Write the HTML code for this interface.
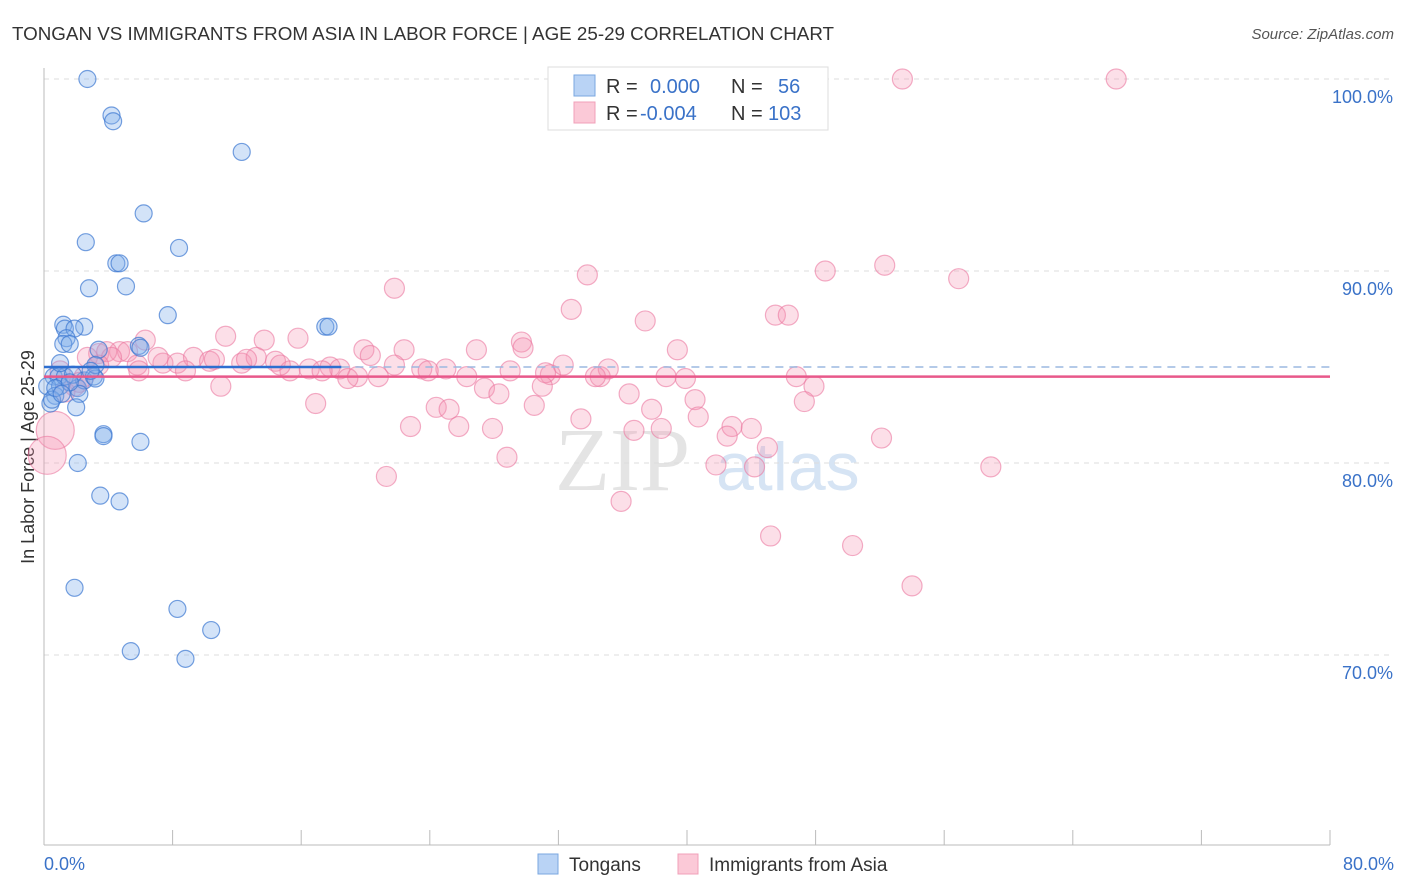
<!DOCTYPE html>
<html><head><meta charset="utf-8"><style>
body{margin:0;background:#fff;font-family:"Liberation Sans",sans-serif;}
svg{display:block}
</style></head><body>
<svg id="c" width="1406" height="892">
<text x="12" y="40" font-size="18.8" fill="#333">TONGAN VS IMMIGRANTS FROM ASIA IN LABOR FORCE | AGE 25-29 CORRELATION CHART</text>
<text x="1394" y="39" font-size="15" fill="#555" font-style="italic" text-anchor="end">Source: ZipAtlas.com</text>
<text transform="translate(34,457) rotate(-90)" font-size="18" fill="#333" text-anchor="middle">In Labor Force | Age 25-29</text>
<text x="555" y="490" font-size="90" fill="#e4e4e4" font-family="Liberation Serif">ZIP</text>
<text x="716" y="490" font-size="68" fill="#d6e4f4">atlas</text>
<g id="grid"></g><g id="pts"></g><g id="lines"></g>
<g>
<rect x="548" y="67" width="280" height="63" fill="#fff" stroke="#ddd"/>
<rect x="574" y="75" width="21" height="21" fill="#b9d3f5" stroke="#7aa7e0"/>
<rect x="574" y="102" width="21" height="21" fill="#fbc9d7" stroke="#f0a0b8"/>
<text x="606" y="93" font-size="20" fill="#333">R = </text><text x="650" y="93" font-size="20" fill="#3a72c8">0.000</text>
<text x="731" y="93" font-size="20" fill="#333">N = </text><text x="778" y="93" font-size="20" fill="#3a72c8">56</text>
<text x="606" y="120" font-size="20" fill="#333">R = </text><text x="640" y="120" font-size="20" fill="#3a72c8">-0.004</text>
<text x="731" y="120" font-size="20" fill="#333">N = </text><text x="768" y="120" font-size="20" fill="#3a72c8">103</text>
</g>
<g>
<rect x="538" y="854" width="20" height="20" fill="#b9d3f5" stroke="#7aa7e0"/>
<text x="569" y="871" font-size="19" fill="#333">Tongans</text>
<rect x="678" y="854" width="20" height="20" fill="#fbc9d7" stroke="#f0a0b8"/>
<text x="709" y="871" font-size="19" fill="#333">Immigrants from Asia</text>
</g>
</svg>
<script>
const yTicks=[100,90,80,70];
const xTickLabels=["0.0%","80.0%"];
const blueX=[2.7,4.2,4.3,12.3,6.2,2.6,8.4,4.5,4.7,2.8,5.1,7.7,1.2,1.3,2.5,1.9,1.4,1.2,1.6,17.5,17.7,3.4,5.9,6.0,0.6,0.9,0.2,1.0,2.1,2.5,3.1,3.2,0.7,0.4,0.5,1.3,2.2,2.0,3.7,3.7,6.0,2.1,3.5,4.7,1.9,8.3,10.4,5.4,8.8,3.2,2.9,1.8,1.0,0.7,1.6,1.1];
const blueY=[100,98.1,97.8,96.2,93,91.5,91.2,90.4,90.4,89.1,89.2,87.7,87.2,87,87.1,87,86.5,86.2,86.2,87.1,87.1,85.9,86.1,86,84.5,84.5,84,84,83.9,84.3,84.5,84.4,83.5,83.1,83.3,84.5,83.6,82.9,81.5,81.4,81.1,80.0,78.3,78.0,73.5,72.4,71.3,70.2,69.8,85.1,84.8,84.6,85.2,83.9,84.2,83.6];
const pinkX=[53.4,66.7,33.8,52.3,48.6,56.9,21.8,32.8,37.4,45.5,46.3,6.3,11.3,13.7,15.8,22.4,26.9,29.7,29.8,39.4,19.9,20.3,3.4,4.7,5.2,3.9,2.7,4.2,5.8,7.4,8.3,9.3,10.3,12.3,13.2,14.4,12.6,16.5,17.8,18.4,19.5,20.8,23.5,25.0,23.9,26.3,31.5,32.3,31.2,34.6,35.1,34.3,38.7,39.9,46.8,47.9,5.9,8.8,11.0,15.3,17.3,18.9,27.4,28.3,31.0,36.4,40.5,47.3,16.9,24.4,25.2,30.5,33.4,37.8,40.7,25.8,22.8,27.9,36.7,38.4,42.8,44.0,42.5,45.0,52.1,44.2,41.8,58.9,21.3,28.8,35.9,45.2,50.3,54.0,2.5,1.9,2.2,3.4,1.3,1.0,7.1,10.6,14.7,21.8,29.0];
const pinkY=[100,100,89.8,90.3,90,89.6,89.1,88,87.4,87.7,87.7,86.4,86.6,86.4,86.5,85.9,85.9,86.3,86,85.9,85.9,85.6,85.7,85.8,85.8,85.8,85.5,85.5,85.1,85.2,85.2,85.5,85.3,85.2,85.5,85.3,85.4,84.9,85.0,84.9,84.5,84.5,84.9,84.9,84.8,84.5,84.6,85.1,84.7,84.5,84.9,84.5,84.5,84.4,84.5,84.0,84.8,84.8,84.0,84.8,84.8,84.4,83.9,83.6,84.0,83.6,83.3,83.2,83.1,82.9,82.8,83.0,82.3,82.8,82.4,81.9,81.9,81.8,81.7,81.8,81.9,81.8,81.4,80.8,81.3,79.8,79.9,79.8,79.3,80.3,78.0,76.2,75.7,73.6,84.5,84.0,84.2,85.1,83.7,84.8,85.5,85.4,85.1,85.1,84.8];
const bigPinkX=[0.7,0.2], bigPinkY=[81.7,80.4];
const blueFitY=85.0, pinkFitY=84.5;
const xs=v=>44+v*16.075, ys=v=>847-(v-60)*19.2;
const NS="http://www.w3.org/2000/svg";
const mk=(t,a,p)=>{const e=document.createElementNS(NS,t);for(const k in a)e.setAttribute(k,a[k]);p.appendChild(e);return e;};
const G=document.getElementById('grid'),P=document.getElementById('pts'),L=document.getElementById('lines');
yTicks.forEach(v=>{
 const l=mk('line',{x1:44,x2:1394,y1:ys(v),y2:ys(v),stroke:'#ddd','stroke-dasharray':'5,5'},G);
 
 
 const t=mk('text',{x:1393,y:ys(v)+24,'font-size':18,fill:'#3a72c8','text-anchor':'end'},G);t.textContent=v.toFixed(1)+'%';
 
 
});
mk('line',{x1:44,x2:44,y1:68,y2:845,stroke:'#bbb'},G);
mk('line',{x1:44,x2:1330,y1:845,y2:845,stroke:'#bbb'},G);
for(let i=0;i<=10;i++){const x=xs(i*8);const t=mk('line',{x1:x,x2:x,y1:830,y2:845,stroke:'#bbb'},G);
 
 }
[[0,'start'],[80,'end']].forEach((d,i)=>{const t=mk('text',{x:i?1394:44,y:870,'font-size':18,fill:'#3a72c8','text-anchor':d[1]},G);t.textContent=xTickLabels[i];
 
 });
pinkX.forEach((x,i)=>{const c=mk('circle',{cx:xs(x),cy:ys(pinkY[i]),r:10,fill:'rgba(245,150,180,0.3)',stroke:'rgba(235,120,160,0.6)','stroke-width':1.2},P);
 
 });
bigPinkX.forEach((x,i)=>{const c=mk('circle',{cx:xs(x),cy:ys(bigPinkY[i]),r:19,fill:'rgba(245,150,180,0.3)',stroke:'rgba(235,120,160,0.6)','stroke-width':1.2},P);
 
 });
blueX.forEach((x,i)=>{const c=mk('circle',{cx:xs(x),cy:ys(blueY[i]),r:8.5,fill:'rgba(130,175,235,0.35)',stroke:'rgba(60,120,210,0.7)','stroke-width':1.2},P);
 
 });
const b1=mk('line',{x1:44,x2:xs(18.5),y1:ys(blueFitY),y2:ys(blueFitY),stroke:'#2e6fd0','stroke-width':2.5},L);


const b2=mk('line',{x1:xs(18.5),x2:1330,y1:ys(blueFitY),y2:ys(blueFitY),stroke:'#9bb8e0','stroke-width':1.5,'stroke-dasharray':'8,6'},L);


const p1=mk('line',{x1:44,x2:1330,y1:ys(pinkFitY),y2:ys(pinkFitY),stroke:'#e8588a','stroke-width':2.5},L);


</script>
</body></html>
